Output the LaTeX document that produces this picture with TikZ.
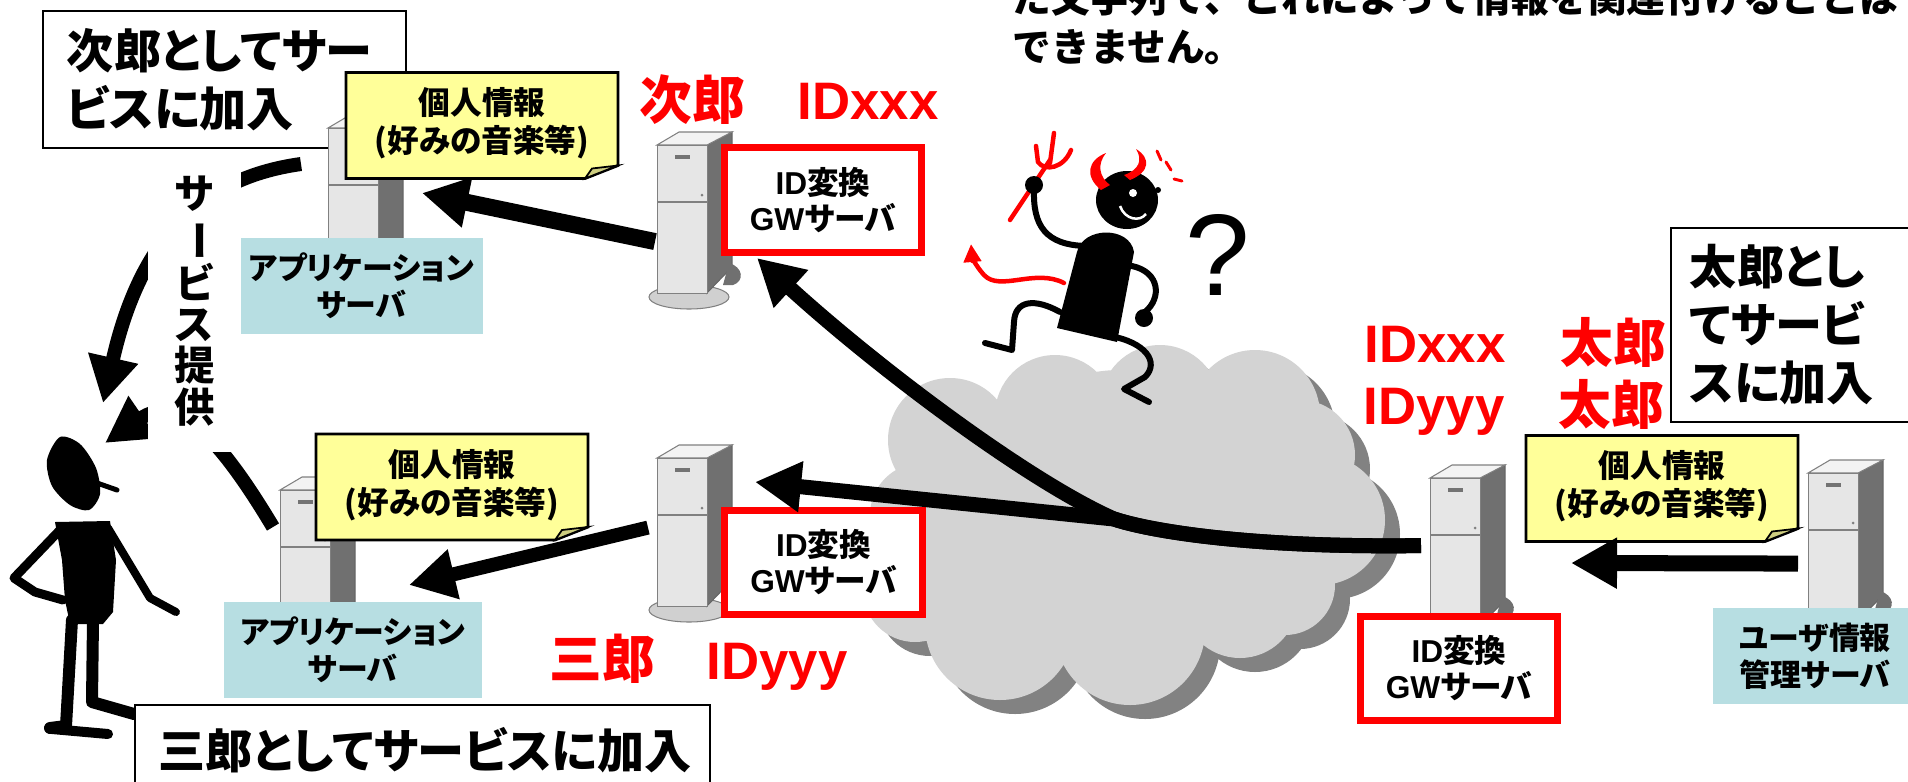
\documentclass[tikz,border=0pt]{standalone}
\usepackage{fontspec}
\usepackage{graphicx}
\usetikzlibrary{arrows.meta}
\usetikzlibrary{calc}

\setmainfont{Noto Sans CJK JP}[RawFeature=+palt]
\newfontfamily\jpfixed{Noto Sans CJK JP}
\newfontfamily\latin{Liberation Sans}

\definecolor{memoyellow}{RGB}{255,255,153}
\definecolor{memofold}{RGB}{206,206,128}
\definecolor{labelblue}{RGB}{183,222,226}
\definecolor{cloudgray}{RGB}{211,211,211}
\definecolor{cloudshadow}{RGB}{130,130,130}
\definecolor{towerfront}{RGB}{230,230,230}
\definecolor{towerside}{RGB}{112,112,112}
\definecolor{towertop}{RGB}{243,243,243}
\definecolor{towerbase}{RGB}{208,208,208}

\tikzset{
    tnode/.style = {align=center, inner sep=0pt, text centered},
    joinbox/.style = {tnode, align=left, draw=black, fill=white, line width=0.6pt, inner xsep=0.24cm,
        font=\bfseries\fontsize{13.4pt}{16.5pt}\selectfont},
    notetext/.style = {tnode, font=\bfseries\fontsize{9pt}{10.8pt}\selectfont},
    srvlabel/.style = {tnode, fill=labelblue, minimum height=0.96cm,
        font=\bfseries\fontsize{8.8pt}{10.4pt}\selectfont},
    gwbox/.style = {tnode, draw=red, fill=white, line width=0.07cm, minimum width=1.97cm,
        minimum height=1.04cm, font=\bfseries\fontsize{9pt}{10.2pt}\selectfont},
    who/.style = {tnode, red, anchor=base, font=\bfseries\fontsize{15pt}{18pt}\selectfont},
    whoid/.style = {who, font=\latin\bfseries\fontsize{15pt}{18pt}\selectfont},
    fatline/.style = {line width=0.15cm},
    limb/.style = {line width=0.06cm, line cap=round, line join=round},
    devilred/.style = {red, line width=0.045cm, line cap=round}
}

% tower server, #2 = top left corner of its front face
\newcommand{\servertower}[2]{%
    \begin{scope}[shift={(#2)}]
        \filldraw[fill=towerbase, draw=gray, line width=0.3pt] (32,152) ellipse (40 and 12);
        \filldraw[fill=towerside, draw=black!60, line width=0.3pt] (50,0) -- (75,-13) -- (75,122) -- (50,148) -- cycle;
        \fill[towerside] (72,118) .. controls (86,122) and (88,136) .. (76,140) -- (66,140) -- cycle;
        \filldraw[fill=towertop, draw=gray, line width=0.3pt] (0,0) -- (22,-13) -- (75,-13) -- (50,0) -- cycle;
        \node[tnode, anchor=north west, minimum width=0.5cm, minimum height=1.48cm,
            fill=towerfront, draw=gray, line width=0.3pt] (#1) at (0,0) {};
        \draw[gray, line width=0.8pt] (0,57) -- (50,57);
        \draw[black!55, line width=1.2pt] (18,12) -- (33,12);
        \fill[gray] (45,50) circle (1.5);
    \end{scope}
}
% yellow memo with a folded corner
\newcommand{\infonote}[2]{%
    \begin{scope}[shift={(#2)}]
        \filldraw[fill=memoyellow, line width=0.8pt] (-136,-53) -- (136,-53) -- (136,40) -- (103,53) -- (-136,53) -- cycle;
        \filldraw[fill=memofold, line width=0.5pt] (103,53) -- (136,40) -- (110,43) -- cycle;
        \node[notetext] (#1) at (0,-2) {個人情報\\(好みの音楽等)};
    \end{scope}
}
\newcommand{\cloudshape}[1]{%
    \fill[#1] (950,440) circle (62) (1055,415) circle (60) (1160,405) circle (60)
        (1255,415) circle (65) (1300,455) circle (55) (1320,520) circle (65)
        (1285,585) circle (50) (1240,600) circle (58) (1130,630) circle (75)
        (1000,625) circle (75) (915,590) circle (52) (922,515) circle (52)
        (980,560) circle (55) (1120,520) circle (150);
}

\begin{document}
\begin{tikzpicture}[x=0.01cm, y=-0.01cm, >={Triangle[length=0.46cm, width=0.48cm]}]
    \useasboundingbox (0,0) rectangle (1908,781);
    \clip (0,0) rectangle (1908,781);

    \node[tnode, align=left, anchor=west, font=\jpfixed\bfseries\fontsize{11pt}{14pt}\selectfont] (caption) at (1012,22)
        {た文字列で、これによって情報を関連付けることは\\できません。};

    % network
    \cloudshape{cloudshadow, shift={(15,14)}}
    \cloudshape{cloudgray}

    \node[joinbox, text width=3.15cm, minimum height=1.37cm] (jiroJoin) at (224.5,79.5) {次郎としてサー\\ビスに加入};

    % application servers
    \servertower{appA}{328,128}
    \infonote{noteA}{482,125.5}
    \node[srvlabel, minimum width=2.43cm] (appAlabel) at (361.5,286) {アプリケーション\\サーバ};
    \servertower{appB}{280,490}
    \infonote{noteB}{452,487}
    \node[srvlabel, minimum width=2.58cm] (appBlabel) at (353,650) {アプリケーション\\サーバ};

    % ID conversion gateways
    \servertower{gwA}{657,145}
    \node[gwbox] (gwAbox) at (823,200) {{\latin ID}変換\\{\latin GW}サーバ};
    \servertower{gwB}{657,458}
    \node[gwbox] (gwBbox) at (823.5,562.5) {{\latin ID}変換\\{\latin GW}サーバ};
    \servertower{gwC}{1430,478}
    \node[gwbox] (gwCbox) at (1459,668.5) {{\latin ID}変換\\{\latin GW}サーバ};

    % user information server
    \servertower{usr}{1808,473}
    \infonote{noteC}{1662,488.5}
    \node[srvlabel, minimum width=2.04cm] (usrlabel) at (1815,656) {ユーザ情報\\管理サーバ};

    % data flow
    \coordinate (tipA) at (422,193);
    \coordinate (tipB) at (409,585);
    \coordinate (tipC) at (1571,563);
    \coordinate (tipD) at (757,258);
    \coordinate (tipE) at (755,482);
    \coordinate (merge) at (1114,519);
    \coordinate (gwCout) at ($(gwC.west)+(-9,-7)$);
    \draw[fatline, line width=0.17cm, ->] ($(gwA.west)+(-2,22)$) -- (tipA);
    \draw[fatline, line width=0.14cm, ->] ($(gwB.west)+(-9,-5)$) -- (tipB);
    \draw[fatline, line width=0.16cm, ->] ($(usr.west)+(-10,16)$) -- (tipC);
    \draw[fatline, ->] (gwCout) .. controls (1250,548) and (1150,531) .. (merge)
        .. controls (1030,482) and (880,370) .. (tipD);
    \draw[fatline, ->] (gwCout) .. controls (1250,548) and (1150,531) .. (merge) -- (tipE);

    % devil on the cloud
    \draw[devilred, -{Triangle[length=0.18cm, width=0.17cm]}] (1064,283) .. controls (1035,268) and (1000,292) .. (984,275)
        .. controls (975,265) and (972,256) .. (971,244);
    \draw[devilred] (1010,220) -- (1050,160);
    \draw[devilred] (1036,146) -- (1038,162) .. controls (1045,172) and (1064,168) .. (1071,150);
    \draw[devilred] (1054,133) -- (1050,163);
    \fill (1057,328) -- (1077,252) .. controls (1083,226) and (1130,226) .. (1134,252) -- (1117,342) -- cycle;
    \draw[limb] (1086,246) .. controls (1045,245) and (1033,225) .. (1034,190);
    \fill (1034,185) circle (9);
    \draw[limb] (1132,266) .. controls (1160,272) and (1162,298) .. (1145,312);
    \fill (1144,318) circle (9);
    \draw[limb] (1060,312) .. controls (1035,298) and (1015,300) .. (1014,322) -- (1012,350) -- (985,343);
    \draw[limb] (1110,336) .. controls (1145,342) and (1160,362) .. (1145,377) -- (1124,389) -- (1149,402);
    \fill (1127,200) ellipse (31 and 29);
    \fill[white] (1133,193) circle (4);
    \draw[white, line width=0.025cm] (1120,206) .. controls (1125,220) and (1140,222) .. (1146,214);
    \fill (1158,190) circle (3);
    \fill[red] (1101,190) .. controls (1084,176) and (1088,160) .. (1106,153)
        .. controls (1097,164) and (1099,177) .. (1110,185) -- cycle;
    \fill[red] (1130,180) .. controls (1150,172) and (1151,158) .. (1136,149)
        .. controls (1143,160) and (1139,170) .. (1124,175) -- cycle;
    \draw[devilred, line width=0.03cm] (1157,151) -- (1161,160) (1166,162) -- (1171,170) (1174,179) -- (1182,181);
    \node[tnode, font=\latin\fontsize{33pt}{36pt}\selectfont] (huh) at (1218,255) {?};

    % the user
    \fill plot[smooth cycle] coordinates {(60,437) (80,444) (96,468) (100,494) (89,510) (70,505) (52,486) (47,460)};
    \draw[line width=0.05cm, line cap=round] (97,483) -- (117,490);
    \fill (55,522) -- (110,521) -- (116,560) -- (113,612) -- (103,624) -- (70,624) -- (65,600) -- (62,560) -- cycle;
    \draw[line width=0.09cm, line cap=round, line join=round] (60,530) -- (14,578) -- (35,592) -- (63,600);
    \draw[line width=0.08cm, line cap=round, line join=round] (108,528) -- (150,598) -- (176,612);
    \draw[line width=0.12cm, line cap=round, line join=round] (72,620) -- (66,726) -- (50,728);
    \draw[line width=0.10cm, line cap=round] (52,729) -- (108,734);
    \draw[line width=0.12cm, line cap=round, line join=round] (93,620) -- (92,702) -- (134,714);

    % service to the user
    \coordinate (srvA) at (301,164);
    \coordinate (srvB) at (273,527);
    \coordinate (userA) at (103,403);
    \coordinate (userB) at (105,443);
    \draw[line width=0.14cm, ->] (srvA) .. controls (200,178) and (140,240) .. (userA);
    \draw[line width=0.14cm, ->] (srvB) .. controls (215,430) and (175,395) .. (userB);
    \node[tnode, fill=white, minimum width=0.93cm, minimum height=3.02cm, font=\bfseries\fontsize{11.5pt}{11.7pt}\selectfont]
        (svc) at (194.5,301) {サ\\\rotatebox[origin=c]{-90}{ー}\\ビ\\ス\\提\\供};

    % names and IDs
    \node[who] (jiro) at (692,119) {次郎};
    \node[whoid] (jiroid) at (868,119) {IDxxx};
    \node[who] (saburo) at (602,678) {三郎};
    \node[whoid] (saburoid) at (777,679) {IDyyy};
    \node[whoid] (taroidA) at (1435,362) {IDxxx};
    \node[who] (taroA) at (1613,362) {太郎};
    \node[whoid] (taroidB) at (1434,424) {IDyyy};
    \node[who] (taroB) at (1611,424) {太郎};

    \node[joinbox, text width=5.27cm, minimum height=0.9cm] (saburoJoin) at (422.5,750) {三郎としてサービスに加入};
    \node[joinbox, text width=2.12cm, inner xsep=0.19cm, minimum height=1.94cm] (taroJoin) at (1796,325)
        {太郎とし\\てサービ\\スに加入};
\end{tikzpicture}
\end{document}
